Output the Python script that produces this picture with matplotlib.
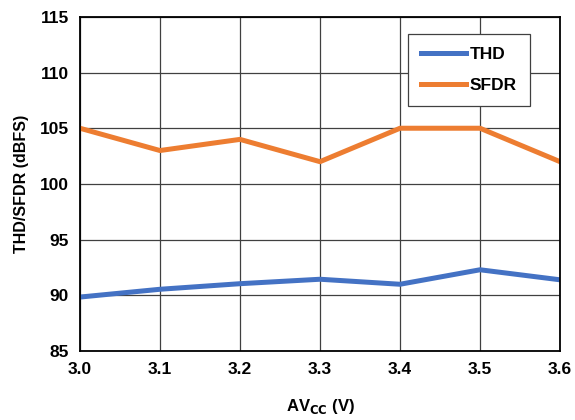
import matplotlib.pyplot as plt

avcc = [3.0, 3.1, 3.2, 3.3, 3.4, 3.5, 3.6]
thd = [89.85, 90.55, 91.05, 91.45, 91.0, 92.3, 91.4]
sfdr = [105, 103, 104, 102, 105, 105, 102]

plt.rcParams['font.family'] = ['Liberation Sans', 'DejaVu Sans']
plt.rcParams['font.weight'] = 'bold'

fig = plt.figure(figsize=(5.75, 4.2), dpi=100)
ax = fig.add_axes([0.139, 0.164, 0.835, 0.796])

ax.plot(avcc, thd, color='#4472C4', linewidth=3.6, label='THD')
ax.plot(avcc, sfdr, color='#ED7D31', linewidth=3.6, label='SFDR')

ax.set_xlim(3.0, 3.6)
ax.set_ylim(85, 115)
ax.set_xticks(avcc)
ax.set_xticklabels(['%.1f' % v for v in avcc])
ax.set_yticks(range(85, 116, 5))
ax.grid(True, color='#404040', linewidth=0.9)
for s in ax.spines.values():
	s.set_color('black')
	s.set_linewidth(1.3)
ax.tick_params(length=0, labelsize=12.5, pad=8)
for lab in ax.get_xticklabels() + ax.get_yticklabels():
	lab.set_fontweight('bold')

ax.set_xlabel(r'AV$_{\mathbf{CC}}$ (V)', fontsize=12, fontweight='bold', labelpad=14)
ax.set_ylabel('THD/SFDR (dBFS)', fontsize=11.5, fontweight='bold', labelpad=8)

leg = ax.legend(loc='upper right', bbox_to_anchor=(0.955, 0.975), fancybox=False,
	framealpha=1, edgecolor='#404040', fontsize=12.5, handlelength=2.6,
	labelspacing=0.9, borderpad=0.75, handletextpad=0.2)
leg.get_frame().set_linewidth(0.9)

fig.savefig('out.png')
plt.close()
